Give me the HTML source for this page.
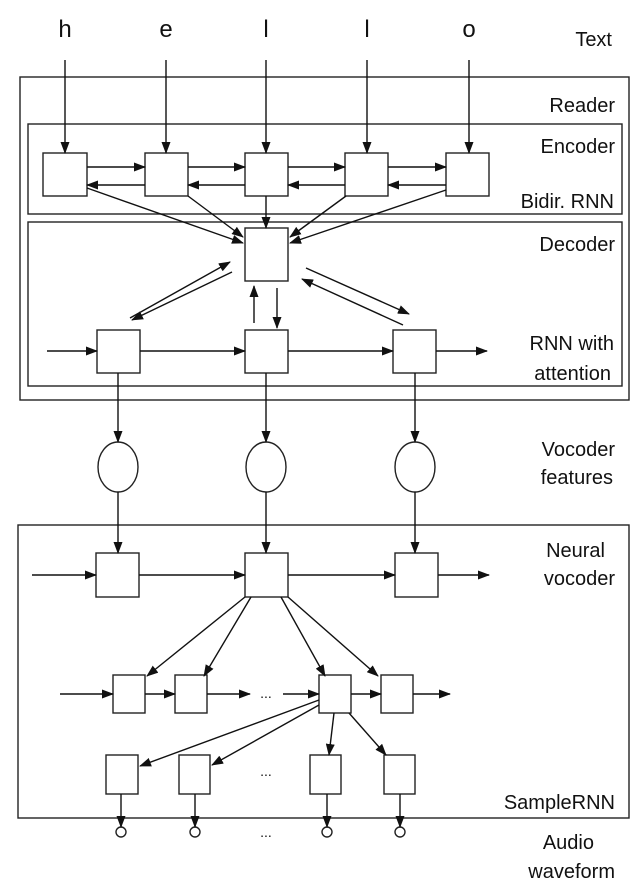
<!DOCTYPE html>
<html><head><style>body{margin:0;background:#fff}svg{display:block}text{font-family:"Liberation Sans",sans-serif;fill:#111}</style></head>
<body>
<svg width="641" height="885" viewBox="0 0 641 885" xmlns="http://www.w3.org/2000/svg">
<defs><marker id="a" markerWidth="12" markerHeight="9" refX="11" refY="4.5" orient="auto" markerUnits="userSpaceOnUse"><path d="M0,0 L12,4.5 L0,9 z" fill="#111"/></marker></defs>
<g fill="none" stroke="#222" stroke-width="1.4">
<rect x="20" y="77" width="609" height="323"/>
<rect x="28" y="124" width="594" height="90"/>
<rect x="28" y="222" width="594" height="164"/>
<rect x="18" y="525" width="611" height="293"/>
<rect x="43" y="153" width="44" height="43"/><rect x="145" y="153" width="43" height="43"/><rect x="245" y="153" width="43" height="43"/><rect x="345" y="153" width="43" height="43"/><rect x="446" y="153" width="43" height="43"/>
<rect x="245" y="228" width="43" height="53"/>
<rect x="97" y="330" width="43" height="43"/><rect x="245" y="330" width="43" height="43"/><rect x="393" y="330" width="43" height="43"/>
<ellipse cx="118" cy="467" rx="20" ry="25"/><ellipse cx="266" cy="467" rx="20" ry="25"/><ellipse cx="415" cy="467" rx="20" ry="25"/>
<rect x="96" y="553" width="43" height="44"/><rect x="245" y="553" width="43" height="44"/><rect x="395" y="553" width="43" height="44"/>
<rect x="113" y="675" width="32" height="38"/><rect x="175" y="675" width="32" height="38"/><rect x="319" y="675" width="32" height="38"/><rect x="381" y="675" width="32" height="38"/>
<rect x="106" y="755" width="32" height="39"/><rect x="179" y="755" width="31" height="39"/><rect x="310" y="755" width="31" height="39"/><rect x="384" y="755" width="31" height="39"/>
<circle cx="121" cy="832" r="5"/><circle cx="195" cy="832" r="5"/><circle cx="327" cy="832" r="5"/><circle cx="400" cy="832" r="5"/>
</g>
<g stroke="#111" stroke-width="1.4" marker-end="url(#a)">
<line x1="65" y1="60" x2="65" y2="153"/><line x1="166" y1="60" x2="166" y2="153"/><line x1="266" y1="60" x2="266" y2="153"/><line x1="367" y1="60" x2="367" y2="153"/><line x1="469" y1="60" x2="469" y2="153"/>
<line x1="87" y1="167" x2="145" y2="167"/><line x1="188" y1="167" x2="245" y2="167"/><line x1="288" y1="167" x2="345" y2="167"/><line x1="388" y1="167" x2="446" y2="167"/>
<line x1="145" y1="185" x2="87" y2="185"/><line x1="245" y1="185" x2="188" y2="185"/><line x1="345" y1="185" x2="288" y2="185"/><line x1="446" y1="185" x2="388" y2="185"/>
<line x1="87" y1="188" x2="243" y2="243"/><line x1="188" y1="196" x2="243" y2="237"/><line x1="266" y1="196" x2="266" y2="228"/><line x1="346" y1="196" x2="290" y2="237"/><line x1="446" y1="190" x2="290" y2="243"/>
<line x1="130" y1="318" x2="230" y2="262"/><line x1="232" y1="272" x2="132" y2="320"/>
<line x1="306" y1="268" x2="409" y2="314"/><line x1="403" y1="325" x2="302" y2="279"/>
<line x1="254" y1="323" x2="254" y2="286"/><line x1="277" y1="288" x2="277" y2="328"/>
<line x1="47" y1="351" x2="97" y2="351"/><line x1="140" y1="351" x2="245" y2="351"/><line x1="288" y1="351" x2="393" y2="351"/><line x1="436" y1="351" x2="487" y2="351"/>
<line x1="118" y1="373" x2="118" y2="442"/><line x1="266" y1="373" x2="266" y2="442"/><line x1="415" y1="373" x2="415" y2="442"/>
<line x1="118" y1="492" x2="118" y2="553"/><line x1="266" y1="492" x2="266" y2="553"/><line x1="415" y1="492" x2="415" y2="553"/>
<line x1="32" y1="575" x2="96" y2="575"/><line x1="139" y1="575" x2="245" y2="575"/><line x1="288" y1="575" x2="395" y2="575"/><line x1="438" y1="575" x2="489" y2="575"/>
<line x1="245" y1="597" x2="147" y2="676"/><line x1="251" y1="597" x2="204" y2="676"/><line x1="281" y1="597" x2="325" y2="676"/><line x1="288" y1="597" x2="378" y2="676"/>
<line x1="60" y1="694" x2="113" y2="694"/><line x1="145" y1="694" x2="175" y2="694"/><line x1="207" y1="694" x2="250" y2="694"/><line x1="283" y1="694" x2="319" y2="694"/><line x1="351" y1="694" x2="381" y2="694"/><line x1="413" y1="694" x2="450" y2="694"/>
<line x1="319" y1="700" x2="140" y2="766"/><line x1="319" y1="705" x2="212" y2="765"/><line x1="334" y1="713" x2="329" y2="755"/><line x1="349" y1="713" x2="386" y2="755"/>
<line x1="121" y1="794" x2="121" y2="827"/><line x1="195" y1="794" x2="195" y2="827"/><line x1="327" y1="794" x2="327" y2="827"/><line x1="400" y1="794" x2="400" y2="827"/>
</g>
<g font-size="24" text-anchor="middle">
<text x="65" y="37">h</text><text x="166" y="37">e</text><text x="266" y="37">l</text><text x="367" y="37">l</text><text x="469" y="37">o</text>
</g>
<g font-size="20" text-anchor="end">
<text x="612" y="46">Text</text>
<text x="615" y="112">Reader</text>
<text x="615" y="153">Encoder</text>
<text x="614" y="208">Bidir. RNN</text>
<text x="615" y="251">Decoder</text>
<text x="614" y="350">RNN with</text>
<text x="611" y="380">attention</text>
<text x="615" y="456">Vocoder</text>
<text x="613" y="484">features</text>
<text x="605" y="557">Neural</text>
<text x="615" y="585">vocoder</text>
<text x="615" y="809">SampleRNN</text>
<text x="594" y="849">Audio</text>
<text x="615" y="878">waveform</text>
</g>
<g font-size="14" text-anchor="middle">
<text x="266" y="698">...</text><text x="266" y="776">...</text><text x="266" y="837">...</text>
</g>
</svg>
</body></html>
